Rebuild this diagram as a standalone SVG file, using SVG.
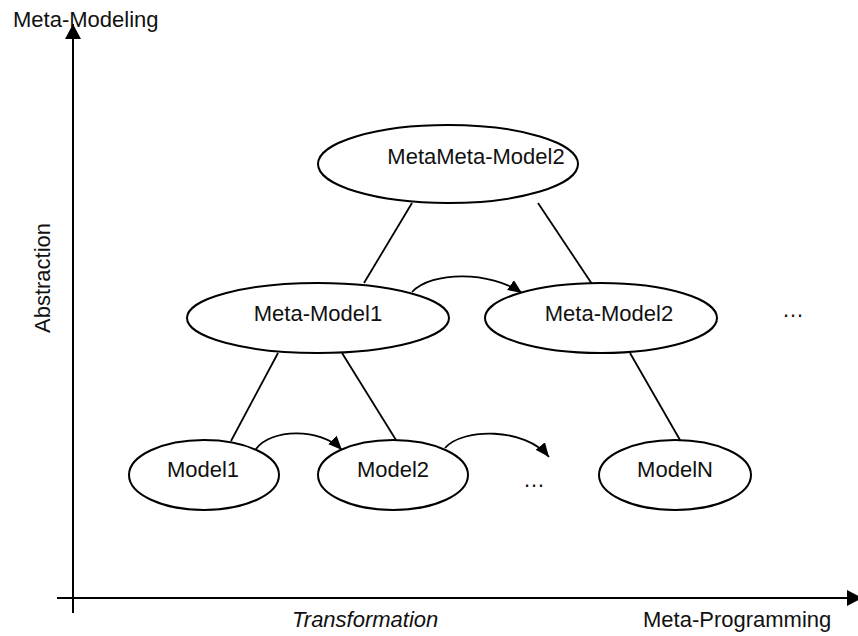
<svg xmlns="http://www.w3.org/2000/svg" width="858" height="636" viewBox="0 0 858 636">
  <style>
    .node { fill: #ffffff; stroke: #000000; stroke-width: 2; }
    .edge { fill: none; stroke: #000000; stroke-width: 1.8; }
    .axis { fill: none; stroke: #000000; stroke-width: 2; }
    .label { font-family: "Liberation Sans", Arial, sans-serif; font-size: 22px; fill: #111111; }
    .mid { text-anchor: middle; }
  </style>
  <defs>
    <marker id="head" viewBox="0 0 14 12" refX="14" refY="6" markerWidth="14" markerHeight="12" markerUnits="userSpaceOnUse" orient="auto">
      <path d="M0,0 L14,6 L0,12 z" fill="#000000"/>
    </marker>
    <marker id="axisHead" viewBox="0 0 15 16" refX="15" refY="8" markerWidth="15" markerHeight="16" markerUnits="userSpaceOnUse" orient="auto">
      <path d="M0,0 L15,8 L0,16 z" fill="#000000"/>
    </marker>
  </defs>

  <!-- axes -->
  <g id="axes">
    <line class="axis" x1="73" y1="613" x2="73" y2="24" marker-end="url(#axisHead)"/>
    <line class="axis" x1="57" y1="598" x2="862" y2="598" marker-end="url(#axisHead)"/>
    <text class="label" x="13" y="27">Meta-Modeling</text>
    <text class="label" x="643" y="627">Meta-Programming</text>
    <text class="label" x="292" y="627" font-style="italic">Transformation</text>
    <text class="label mid" transform="translate(50,278) rotate(-90)">Abstraction</text>
  </g>

  <!-- connectors -->
  <g id="connectors">
    <line class="edge" x1="412" y1="203" x2="364" y2="283"/>
    <line class="edge" x1="538" y1="203" x2="592" y2="284"/>
    <line class="edge" x1="278" y1="353" x2="231" y2="441"/>
    <line class="edge" x1="342" y1="353" x2="396" y2="440"/>
    <line class="edge" x1="630" y1="353" x2="680" y2="440"/>
    <path class="edge" d="M412,292 C432,271 490,271 522,293" marker-end="url(#head)"/>
    <path class="edge" d="M256,449 C270,429 320,427 342,450" marker-end="url(#head)"/>
    <path class="edge" d="M445,448 C462,428 525,427 549,457" marker-end="url(#head)"/>
  </g>

  <g id="metameta-model2">
    <ellipse class="node" cx="448" cy="164" rx="130" ry="39"/>
    <text class="label mid" x="476" y="164">MetaMeta-Model2</text>
  </g>
  <g id="meta-model1">
    <ellipse class="node" cx="318" cy="318" rx="131" ry="35"/>
    <text class="label mid" x="318" y="321">Meta-Model1</text>
  </g>
  <g id="meta-model2">
    <ellipse class="node" cx="601" cy="318" rx="116" ry="35"/>
    <text class="label mid" x="609" y="321">Meta-Model2</text>
  </g>
  <g id="model1">
    <ellipse class="node" cx="204" cy="475" rx="75" ry="35"/>
    <text class="label mid" x="203" y="477">Model1</text>
  </g>
  <g id="model2">
    <ellipse class="node" cx="393" cy="475" rx="75" ry="35"/>
    <text class="label mid" x="393" y="477">Model2</text>
  </g>
  <g id="modelN">
    <ellipse class="node" cx="675" cy="475" rx="76" ry="35"/>
    <text class="label mid" x="675" y="477">ModelN</text>
  </g>

  <!-- continuation marks -->
  <g id="more-models">
    <text class="label" x="523" y="487">…</text>
  </g>
  <g id="more-meta-models">
    <text class="label" x="782" y="317">…</text>
  </g>
</svg>
